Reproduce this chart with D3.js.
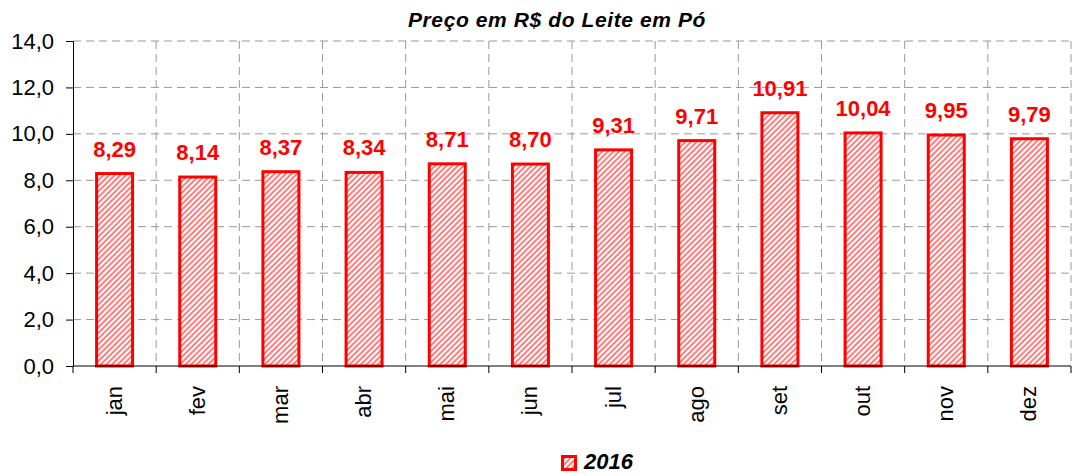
<!DOCTYPE html>
<html>
<head>
<meta charset="utf-8">
<script src="https://cdn.jsdelivr.net/npm/d3@7"></script>
<style>
  body { margin: 0; background: #fff; }
  svg { font-family: "Liberation Sans", Arial, sans-serif; }
</style>
</head>
<body>
<div id="chart"></div>
<script>
(function () {
  const months = ["jan", "fev", "mar", "abr", "mai", "jun", "jul", "ago", "set", "out", "nov", "dez"];
  const prices = [8.29, 8.14, 8.37, 8.34, 8.71, 8.70, 9.31, 9.71, 10.91, 10.04, 9.95, 9.79];
  const yTicks = [0, 2, 4, 6, 8, 10, 12, 14];
  const seriesName = "2016";
  const chartTitle = "Preço em R$ do Leite em Pó";

  const w = 1073;
  const h = 476;
  const left = 73;
  const right = 1071;
  const top = 41;
  const bottom = 366;
  const red = "#ff0000";
  const fmt = (v, n) => v.toFixed(n).replace(".", ",");

  const svg = d3.select("#chart")
    .append("svg")
    .attr("width", w)
    .attr("height", h);

  const pat = svg.append("defs").append("pattern")
    .attr("id", "hatch")
    .attr("patternUnits", "userSpaceOnUse")
    .attr("width", 4)
    .attr("height", 4)
    .attr("patternTransform", "rotate(45)");
  pat.append("rect").attr("width", 4).attr("height", 4).attr("fill", "#fff");
  pat.append("rect").attr("width", 1.8).attr("height", 4).attr("fill", "#ff7070");

  const xScale = d3.scaleBand()
    .domain(months)
    .range([left, right]);

  const yScale = d3.scaleLinear()
    .domain([0, 14])
    .range([bottom, top]);

  // grid
  svg.append("g")
    .selectAll("line")
    .data(yTicks.slice(1))
    .enter()
    .append("line")
    .attr("x1", left).attr("x2", right)
    .attr("y1", (d) => yScale(d)).attr("y2", (d) => yScale(d))
    .attr("stroke", "#999")
    .attr("stroke-dasharray", "8,5");

  svg.append("g")
    .selectAll("line")
    .data(d3.range(1, months.length + 1))
    .enter()
    .append("line")
    .attr("x1", (i) => left + xScale.step() * i)
    .attr("x2", (i) => left + xScale.step() * i)
    .attr("y1", top).attr("y2", bottom)
    .attr("stroke", "#999")
    .attr("stroke-dasharray", "8,5");

  // bars
  const bw = 36;
  svg.append("g")
    .selectAll("rect")
    .data(prices)
    .enter()
    .append("rect")
    .attr("x", (d, i) => xScale(months[i]) + xScale.bandwidth() / 2 - bw / 2)
    .attr("y", (d) => yScale(d))
    .attr("width", bw)
    .attr("height", (d) => bottom - yScale(d))
    .attr("fill", "url(#hatch)")
    .attr("stroke", red)
    .attr("stroke-width", 3);

  svg.append("g")
    .selectAll("text")
    .data(prices)
    .enter()
    .append("text")
    .attr("x", (d, i) => xScale(months[i]) + xScale.bandwidth() / 2)
    .attr("y", (d) => yScale(d) - 17)
    .attr("text-anchor", "middle")
    .attr("fill", red)
    .attr("font-weight", "bold")
    .attr("font-size", 22)
    .text((d) => fmt(d, 2));

  // axes
  const yAxis = d3.axisLeft(yScale)
    .tickValues(yTicks)
    .tickSize(7)
    .tickFormat((d) => fmt(d, 1));
  const gy = svg.append("g")
    .attr("transform", `translate(${left}, 0)`)
    .call(yAxis);
  gy.select(".domain").attr("stroke", "#000");
  gy.selectAll(".tick text")
    .attr("font-size", 22)
    .attr("font-family", "Liberation Sans, Arial, sans-serif")
    .attr("fill", "#000")
    .attr("x", -19);

  const gx = svg.append("g")
    .attr("transform", `translate(0, ${bottom})`);
  gx.append("line")
    .attr("x1", left).attr("x2", right)
    .attr("stroke", "#000");
  gx.selectAll("line.tk")
    .data(d3.range(months.length + 1))
    .enter()
    .append("line")
    .attr("class", "tk")
    .attr("x1", (i) => left + xScale.step() * i)
    .attr("x2", (i) => left + xScale.step() * i)
    .attr("y1", 0).attr("y2", 7)
    .attr("stroke", "#000");
  gx.selectAll("text")
    .data(months)
    .enter()
    .append("text")
    .attr("transform", (d) => `translate(${xScale(d) + xScale.bandwidth() / 2 + 7}, 20) rotate(-90)`)
    .attr("text-anchor", "end")
    .attr("font-size", 22)
    .attr("fill", "#000")
    .text((d) => d);

  // title
  svg.append("text")
    .attr("x", 557)
    .attr("y", 27)
    .attr("text-anchor", "middle")
    .attr("font-weight", "bold")
    .attr("font-style", "italic")
    .attr("font-size", 21)
    .attr("letter-spacing", 0.6)
    .text(chartTitle);

  // legend
  const lg = svg.append("g").attr("transform", "translate(561, 455)");
  lg.append("rect")
    .attr("x", 1.5).attr("y", 1.5)
    .attr("width", 13).attr("height", 13)
    .attr("fill", "url(#hatch)")
    .attr("stroke", red)
    .attr("stroke-width", 3);
  lg.append("text")
    .attr("x", 23)
    .attr("y", 14)
    .attr("font-weight", "bold")
    .attr("font-style", "italic")
    .attr("font-size", 22)
    .text(seriesName);
})();
</script>
</body>
</html>
